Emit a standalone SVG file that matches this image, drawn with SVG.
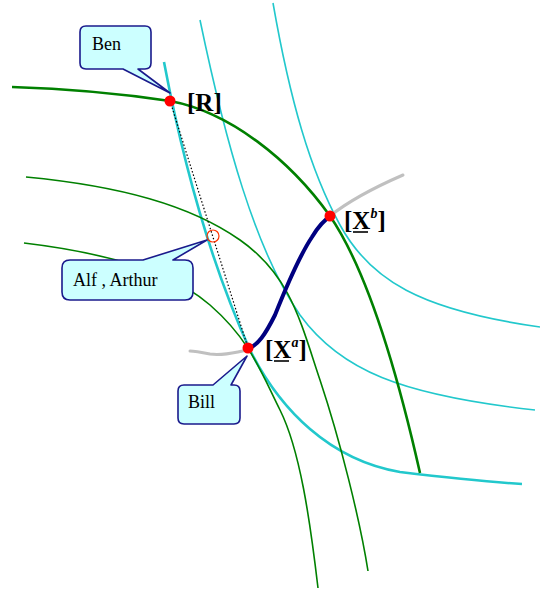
<svg xmlns="http://www.w3.org/2000/svg" width="540" height="593" viewBox="0 0 540 593">
<style>
.g{fill:none;stroke:#008000;stroke-width:1.6}
.gt{fill:none;stroke:#008000;stroke-width:2.6}
.c{fill:none;stroke:#22c8cc;stroke-width:1.6}
.ct{fill:none;stroke:#22c8cc;stroke-width:2.6}
.gray{fill:none;stroke:#c0c0c0;stroke-width:3;stroke-linecap:round}
.path{fill:none;stroke:#000080;stroke-width:4;stroke-linecap:round}
.dot{fill:#ff0000}
.call{fill:#ccffff;stroke:#1a1a8c;stroke-width:1.6;stroke-linejoin:round}
.ct2{font-family:"Liberation Serif",serif;font-size:18px;fill:#000}
.lab{font-family:"Liberation Serif",serif;font-size:25px;font-weight:bold;fill:#000}
.sup{font-family:"Liberation Serif",serif;font-size:14px;font-style:italic;font-weight:bold;fill:#000}
.ul{stroke:#000;stroke-width:1.6}
</style>
<rect width="540" height="593" fill="#fff"/>
<g id="connectors">
  <path class="c" d="M273,3 C290,100 310,170 340,225 C370,280 420,310 540,327"/>
  <path class="c" d="M200,20 C225,140 255,250 300,315 C340,370 400,395 535,410"/>
  <path class="ct" d="M164,62 C175,120 200,240 250,350 C280,410 330,460 400,472 C450,478 490,482 522,484"/>
  <path class="g" d="M26,177 C120,186 190,205 240,240 S300,320 320,380 S360,520 368,571"/>
  <path class="g" d="M24,243 C100,252 170,270 210,305 S260,370 280,410 S310,520 318,588"/>
  <path class="gt" d="M12,87 C80,89 130,95 170,101 C230,112 290,160 330,216 C360,260 390,340 420,473"/>
  <path class="gray" d="M330,216 C350,200 380,185 403,175"/>
  <path class="gray" d="M248,350 C235,352 225,356 210,354 C200,352 195,351 190,351"/>
  <line x1="170" y1="101" x2="248" y2="348" stroke="#000" stroke-width="1.2" stroke-dasharray="1.5,2"/>
  <path class="path" d="M248,349 C258,345 265,335 275,315 C285,290 300,255 312,237 C318,227 324,220 331,216"/>
</g>
<g id="R">
  <circle class="dot" cx="170" cy="101" r="5.5"/>
  <text class="lab" x="187" y="111">[R]</text>
</g>
<g id="Xb">
  <circle class="dot" cx="330" cy="216" r="5.5"/>
  <text class="lab" x="344" y="229">[X<tspan class="sup" dy="-11">b</tspan><tspan dy="11">]</tspan></text>
  <line class="ul" x1="353" y1="232" x2="368" y2="232"/>
</g>
<g id="Xa">
  <circle class="dot" cx="248" cy="348" r="5.5"/>
  <text class="lab" x="265" y="358">[X<tspan class="sup" dy="-11">a</tspan><tspan dy="11">]</tspan></text>
  <line class="ul" x1="274" y1="361" x2="289" y2="361"/>
</g>
<g id="alf-point">
  <circle cx="213" cy="236" r="6" fill="none" stroke="#ff3300" stroke-width="1.2"/>
</g>
<g id="ben">
  <path class="call" d="M86,26 H145 Q151,26 151,32 V63 Q151,69 145,69 H138 L170,93 L123,69 H86 Q80,69 80,63 V32 Q80,26 86,26 Z"/>
  <text class="ct2" x="92" y="50">Ben</text>
</g>
<g id="alf">
  <path class="call" d="M70,260 H143 L207,240 L173,260 H185 Q193,260 193,268 V292 Q193,300 185,300 H70 Q62,300 62,292 V268 Q62,260 70,260 Z"/>
  <text class="ct2" x="73" y="286">Alf , Arthur</text>
</g>
<g id="bill">
  <path class="call" d="M184,385 H213 L247,356 L231,385 H234 Q240,385 240,391 V418 Q240,424 234,424 H184 Q178,424 178,418 V391 Q178,385 184,385 Z"/>
  <text class="ct2" x="188" y="408">Bill</text>
</g>
</svg>
